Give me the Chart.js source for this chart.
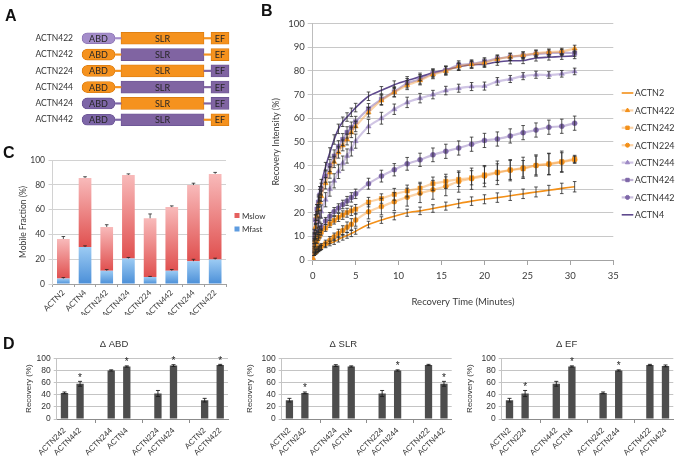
<!DOCTYPE html>
<html><head><meta charset="utf-8">
<script src="https://cdn.jsdelivr.net/npm/chart.js@4.4.1/dist/chart.umd.min.js"></script>
<style>
html,body{margin:0;padding:0;background:#fff;overflow:hidden;width:682px;height:464px;position:relative;}
canvas{position:absolute;}
.lt{position:absolute;font:bold 16px "Liberation Sans",Arial,sans-serif;line-height:16px;color:#111;z-index:5;}
</style></head><body>
<div class="lt" style="left:5px;top:8px">A</div>
<div class="lt" style="left:261px;top:3px">B</div>
<div class="lt" style="left:3px;top:145px">C</div>
<div class="lt" style="left:3px;top:336px">D</div>
<canvas id="cA" width="240" height="122" style="left:0px;top:18px;width:240px;height:122px"></canvas>
<canvas id="cC" width="268" height="175" style="left:0px;top:140px;width:268px;height:175px"></canvas>
<canvas id="cB" width="420" height="300" style="left:262px;top:15px;width:420px;height:300px"></canvas>
<canvas id="cD1" width="278" height="134" style="left:0px;top:330px;width:278px;height:134px"></canvas>
<canvas id="cD2" width="244" height="134" style="left:235px;top:330px;width:244px;height:134px"></canvas>
<canvas id="cD3" width="258" height="134" style="left:460px;top:330px;width:258px;height:134px"></canvas>
<script>
// ---------------- DATA ----------------
// Panel A: constructs and domain extents (schematic units)
const aConstructs = ['ACTN422','ACTN242','ACTN224','ACTN244','ACTN424','ACTN442'];
const aAbdSpan = [2, 35];
const aLink1Span = [35, 41];
const aSlrSpan = [41, 124];
const aLink2Span = [124, 131];
const aEfSpan = [131, 149];

// Panel B: FRAP recovery curves
const bTimes = [0, 0.17, 0.33, 0.5, 0.67, 0.83, 1, 1.5, 2, 2.5, 3, 3.5, 4, 4.5, 5, 6.5, 8, 9.5, 11, 12.5, 14, 15.5, 17, 18.5, 20, 21.5, 23, 24.5, 26, 27.5, 29, 30.5];
const bNames = ['ACTN2','ACTN422','ACTN242','ACTN224','ACTN244','ACTN424','ACTN442','ACTN4'];
const bACTN2   = [0, 2.5, 3.2, 3.8, 4.3, 4.8, 5.3, 6.2, 7.0, 7.7, 8.7, 9.6, 10.4, 11.2, 12.2, 15.0, 16.9, 18.5, 20.0, 20.8, 21.8, 22.8, 23.9, 24.9, 25.7, 26.4, 27.2, 28.0, 28.8, 29.5, 30.3, 31.0];
const bACTN422 = [0, 8, 14, 18.5, 21.5, 24.5, 27, 32.5, 37, 41.5, 45.5, 48.5, 51, 54, 56.5, 62.5, 67.5, 71, 74, 76, 78.5, 80, 82, 82.8, 83.5, 85, 86, 86.7, 87.5, 88, 88.3, 89.5];
const bACTN242 = [0, 5, 6.5, 8, 9.5, 10.5, 11.8, 13.5, 15.3, 16.8, 18, 19, 20, 20.8, 21.5, 24.5, 26, 27.8, 29.2, 30.4, 32.3, 33.3, 34.1, 34.8, 36, 37.2, 38.1, 38.6, 40, 40.7, 41.6, 42.8];
const bACTN224 = [0, 2.7, 3.4, 4, 4.7, 5.2, 5.7, 7, 8.4, 9.8, 11.2, 12.5, 13.9, 15.1, 16.9, 20.4, 22.6, 24.7, 26.6, 28.3, 29.7, 31.2, 33.2, 34.4, 35.5, 36.9, 38, 39, 40, 40.5, 41.4, 42.4];
const bACTN244 = [0, 6, 10, 13.5, 16, 18.5, 20.5, 25.5, 30, 33.5, 37.5, 41, 44, 47, 50.3, 56.5, 60, 63.8, 66.7, 68.5, 70, 71.7, 72.7, 73.4, 73.6, 75.6, 76.6, 77.8, 78.4, 78.3, 78.8, 79.8];
const bACTN424 = [0, 10, 17, 21.5, 24.5, 27.5, 30, 35.5, 40, 44, 48, 51, 54, 56, 58.5, 64, 68, 71.2, 74.8, 76.5, 79, 80.3, 82.5, 83, 84, 85.2, 86, 86.5, 87.2, 87.5, 87.8, 87.5];
const bACTN442 = [0, 9, 10, 11, 12, 13, 14, 16.5, 18.5, 20.5, 22, 23.5, 25, 26.5, 28, 32.3, 35.5, 38.2, 40.7, 42.4, 44.5, 46, 47.4, 49, 50.6, 51.2, 52.5, 53.9, 55, 56.2, 56.6, 57.9];
const bACTN4   = [0, 12, 18, 22, 26, 29.5, 32.5, 39.5, 45.5, 51, 55.5, 58.5, 60.5, 62.5, 64.5, 69.3, 71.8, 74.2, 76, 77.5, 79.2, 80.5, 81.7, 82.6, 82.9, 83.8, 84.3, 84.4, 85.5, 85.8, 86.1, 86.4];
const bErrACTN2   = [0,0.6,0.6,0.7,0.8,0.8,0.9,1,1,1.1,1.1,1.2,1.2,1.3,1.3,1.4,1.4,1.5,1.5,1.6,1.6,1.7,1.8,1.8,1.9,2,2,2,2.1,2.1,2.2,2.2];
const bErrACTN422 = [0,1.2,1.5,1.8,2,2,2.2,2.4,2.4,2.4,2.4,2.3,2.3,2.2,2.2,2,2,2,1.9,1.9,1.8,1.8,1.7,1.6,1.6,1.5,1.5,1.4,1.4,1.3,1.3,1.4];
const bErrACTN242 = [0,0.8,1,1,1.2,1.2,1.3,1.4,1.5,1.6,1.7,1.8,1.9,2,2,2,2,2.5,2.5,2.5,2.8,3,3,3,3.5,3.5,4,3.5,4,4.5,4.5,1.5];
const bErrACTN224 = [0,0.8,1,1,1.1,1.2,1.3,1.4,1.5,1.6,1.8,2,2.2,2.4,2.6,3,3.5,3.8,3.8,4,4,4,4.5,4.5,4.5,5,4.5,4.5,4.5,4.5,4,1.5];
const bErrACTN244 = [0,1,1.5,2,2.2,2.5,2.8,3,3,3,3,3,3,3,3,3,2.5,2.2,2.2,2,1.8,1.8,1.7,1.7,1.7,1.6,1.5,1.5,1.5,1.4,1.4,1.4];
const bErrACTN424 = [0,1.5,2,2,2.2,2.4,2.5,2.6,2.6,2.6,2.5,2.5,2.4,2.4,2.3,2.2,2.2,2.1,2,2,1.9,1.8,1.8,1.7,1.6,1.6,1.5,1.5,1.4,1.4,1.3,1.3];
const bErrACTN442 = [0,1,1,1.2,1.2,1.3,1.4,1.5,1.6,1.7,1.8,1.8,1.9,2,2,2.3,2.5,2.6,2.7,2.8,2.9,3,3,3,3,3,3,3,3,3,3,3];
const bErrACTN4   = [0,1,1.2,1.4,1.5,1.6,1.6,1.8,2,2,2,2,1.8,1.8,1.8,1.8,1.6,1.6,1.6,1.6,1.5,1.5,1.5,1.4,1.4,1.4,1.3,1.3,1.3,1.2,1.2,1.2];
const bXTicks = {min: 0, max: 35, step: 5};
const bYTicks = {min: 0, max: 100, step: 10};

// Panel C: mobile fractions
const cCats = ['ACTN2','ACTN4','ACTN242','ACTN424','ACTN224','ACTN442','ACTN244','ACTN422'];
const cMfast = [4.4, 29.8, 10.7, 20.6, 5.6, 10.7, 18.4, 19.8];
const cMslow = [31.9, 55.7, 35.3, 67.4, 47.4, 51.3, 61.4, 69.0];
const cMfastErr = [0.8, 1, 1, 0.8, 0.5, 1, 1.5, 1];
const cTotalErr = [2, 1, 1.8, 0.8, 3.5, 1, 1.5, 1.2];

// Panel D: recovery comparisons
const dAbdLabels = ['ACTN242','ACTN442','','ACTN244','ACTN4','','ACTN224','ACTN424','','ACTN2','ACTN422'];
const dAbdVals   = [43, 58, null, 80, 86.5, null, 42, 88, null, 31, 89];
const dAbdErr    = [1.5, 4, null, 1, 1, null, 5, 1.5, null, 3, 1];
const dAbdStar   = [0, 1, 0, 0, 1, 0, 0, 1, 0, 0, 1];
const dSlrLabels = ['ACTN2','ACTN242','','ACTN424','ACTN4','','ACTN224','ACTN244','','ACTN422','ACTN442'];
const dSlrVals   = [31, 43, null, 88, 86.5, null, 42, 80, null, 89, 58];
const dSlrErr    = [3, 1.5, null, 1.5, 1, null, 5, 1, null, 1, 4];
const dSlrStar   = [0, 1, 0, 0, 0, 0, 0, 1, 0, 0, 1];
const dEfLabels  = ['ACTN2','ACTN224','','ACTN442','ACTN4','','ACTN242','ACTN244','','ACTN422','ACTN424'];
const dEfVals    = [31, 42, null, 58, 86.5, null, 43, 80, null, 89, 87.5];
const dEfErr     = [3, 5, null, 4, 1, null, 1.5, 1, null, 1, 1.5];
const dEfStar    = [0, 1, 0, 0, 1, 0, 0, 1, 0, 0, 0];

// ---------------- STYLE ----------------
const LF = 'Lato, "Open Sans", sans-serif';
const DF = '"Liberation Sans", Arial, sans-serif';
Chart.defaults.font.family = LF;
Chart.defaults.color = '#3a3a3a';
Chart.defaults.animation = false;
Chart.defaults.responsive = false;
Chart.defaults.plugins.legend.display = false;
Chart.defaults.plugins.tooltip.enabled = false;

const ORANGE = '#F5921E', PURPLE = '#8064A2';

// ---------------- PLUGINS ----------------
const errPlugin = {
  id: 'errbars',
  afterDatasetsDraw(chart, args, o) {
    if (!o || !o.sets) return;
    const ctx = chart.ctx, ys = chart.scales.y;
    o.sets.forEach(s => {
      const meta = chart.getDatasetMeta(s.dataset);
      const data = chart.data.datasets[s.dataset].data;
      meta.data.forEach((el, i) => {
        const e = s.err[i], v = data[i];
        if (e == null || !e || v == null) return;
        const dy = Math.abs(ys.getPixelForValue(e) - ys.getPixelForValue(0));
        const x = el.x, y = el.y;
        const top = y - dy, bot = s.up ? y : y + dy;
        ctx.save();
        ctx.strokeStyle = s.color || '#262626';
        ctx.lineWidth = s.width || 1;
        ctx.beginPath();
        ctx.moveTo(x, top); ctx.lineTo(x, bot);
        ctx.moveTo(x - s.cap, top); ctx.lineTo(x + s.cap, top);
        if (!s.up) { ctx.moveTo(x - s.cap, bot); ctx.lineTo(x + s.cap, bot); }
        ctx.stroke();
        ctx.restore();
      });
    });
  }
};
const starPlugin = {
  id: 'stars',
  afterDatasetsDraw(chart, args, o) {
    if (!o || !o.flags) return;
    const ctx = chart.ctx, ys = chart.scales.y;
    const meta = chart.getDatasetMeta(0);
    const data = chart.data.datasets[0].data;
    meta.data.forEach((el, i) => {
      if (!o.flags[i] || data[i] == null) return;
      const top = ys.getPixelForValue(data[i] + (o.errs[i] || 0));
      ctx.save();
      ctx.fillStyle = '#222';
      ctx.font = '10px ' + DF;
      ctx.textAlign = 'center';
      ctx.textBaseline = 'alphabetic';
      ctx.fillText('*', el.x, top - 0.5);
      ctx.restore();
    });
  }
};
const aTextPlugin = {
  id: 'aText',
  afterDatasetsDraw(chart, args, o) {
    if (!o || !o.labels) return;
    const ctx = chart.ctx;
    chart.data.datasets.forEach((ds, di) => {
      if (!o.labels.includes(ds.label)) return;
      chart.getDatasetMeta(di).data.forEach(el => {
        const p = el.getProps(['x', 'y', 'base'], true);
        ctx.save();
        ctx.fillStyle = '#262626';
        ctx.font = '9px ' + LF;
        ctx.textAlign = 'center';
        ctx.textBaseline = 'middle';
        ctx.fillText(ds.label, (p.x + p.base) / 2, p.y + 0.5);
        ctx.restore();
      });
    });
  }
};
const bLegendPlugin = {
  id: 'bLegend',
  afterDraw(chart, args, o) {
    if (!o || o.x == null) return;
    const ctx = chart.ctx;
    chart.data.datasets.forEach((ds, i) => {
      const y = o.y + i * o.gap;
      ctx.save();
      ctx.strokeStyle = ds.borderColor; ctx.lineWidth = ds.borderWidth;
      ctx.beginPath(); ctx.moveTo(o.x, y); ctx.lineTo(o.x + o.w, y); ctx.stroke();
      if (ds.pointRadius > 0) {
        ctx.fillStyle = ds.pointBackgroundColor; ctx.strokeStyle = ds.pointBorderColor; ctx.lineWidth = 1;
        Chart.helpers.drawPoint(ctx, {pointStyle: ds.pointStyle, radius: ds.pointRadius * 0.8, borderWidth: 1, rotation: 0}, o.x + o.w / 2, y);
      }
      ctx.fillStyle = '#333'; ctx.font = '9px ' + LF; ctx.textAlign = 'left'; ctx.textBaseline = 'middle';
      ctx.fillText(ds.label, o.x + o.w + 1.5, y + 0.5);
      ctx.restore();
    });
  }
};
const cLegendPlugin = {
  id: 'cLegend',
  afterDraw(chart, args, o) {
    if (!o || !o.items) return;
    const ctx = chart.ctx;
    o.items.forEach((it, i) => {
      const y = o.y + i * o.gap;
      ctx.save();
      ctx.fillStyle = it.color; ctx.fillRect(o.x - 2.5, y - 2.5, 5, 5);
      ctx.fillStyle = '#333'; ctx.font = '8px ' + LF; ctx.textAlign = 'left'; ctx.textBaseline = 'middle';
      ctx.fillText(it.label, o.x + 5, y + 0.5);
      ctx.restore();
    });
  }
};
Chart.register(errPlugin, starPlugin, aTextPlugin, bLegendPlugin, cLegendPlugin);

// ---------------- PANEL A ----------------
(function () {
  const abdFill = ['#A48DCA', ORANGE, ORANGE, ORANGE, '#7D66A7', '#7D66A7'];
  const abdEdge = ['#8A72B3', '#D97B10', '#D97B10', '#D97B10', '#6A5494', '#6A5494'];
  const isoFill = d => d === '2' ? ORANGE : PURPLE;
  const isoEdge = d => d === '2' ? '#D97B10' : '#6A5494';
  const slrFill = aConstructs.map(n => isoFill(n[5]));
  const slrEdge = aConstructs.map(n => isoEdge(n[5]));
  const efFill = aConstructs.map(n => isoFill(n[6]));
  const efEdge = aConstructs.map(n => isoEdge(n[6]));
  new Chart(document.getElementById('cA'), {
    type: 'bar',
    data: {
      labels: aConstructs,
      datasets: [
        {label: 'l1', data: aConstructs.map(() => aLink1Span), backgroundColor: abdFill, barThickness: 1.5, grouped: false},
        {label: 'l2', data: aConstructs.map(() => aLink2Span), backgroundColor: efFill, barThickness: 1.5, grouped: false},
        {label: 'ABD', data: aConstructs.map(() => aAbdSpan), backgroundColor: abdFill, borderColor: abdEdge, borderWidth: 0.8, borderSkipped: false, borderRadius: 20, barThickness: 11, grouped: false},
        {label: 'SLR', data: aConstructs.map(() => aSlrSpan), backgroundColor: slrFill, borderColor: slrEdge, borderWidth: 0.8, borderSkipped: false, barThickness: 12, grouped: false},
        {label: 'EF', data: aConstructs.map(() => aEfSpan), backgroundColor: efFill, borderColor: efEdge, borderWidth: 0.8, borderSkipped: false, barThickness: 12, grouped: false}
      ]
    },
    options: {
      indexAxis: 'y',
      layout: {padding: {top: 1.65, bottom: 2.15, left: 0, right: 10}},
      plugins: {aText: {labels: ['ABD', 'SLR', 'EF']}},
      scales: {
        x: {type: 'linear', min: 0, max: 150, display: false},
        y: {grid: {display: false, drawTicks: false}, border: {display: false},
            ticks: {font: {size: 8.5, family: LF}, color: '#333', padding: 7},
            afterFit: s => { s.width = 80; }}
      }
    }
  });
})();

// ---------------- PANEL B ----------------
(function () {
  const vals = {ACTN2: bACTN2, ACTN422: bACTN422, ACTN242: bACTN242, ACTN224: bACTN224, ACTN244: bACTN244, ACTN424: bACTN424, ACTN442: bACTN442, ACTN4: bACTN4};
  const errs = {ACTN2: bErrACTN2, ACTN422: bErrACTN422, ACTN242: bErrACTN242, ACTN224: bErrACTN224, ACTN244: bErrACTN244, ACTN424: bErrACTN424, ACTN442: bErrACTN442, ACTN4: bErrACTN4};
  const st = {
    ACTN2:   {line: '#F39019', w: 1.6, mk: null, ps: 'line', r: 0},
    ACTN422: {line: 'rgba(246,150,45,0.42)', w: 2.2, mk: '#F39019', ps: 'triangle', r: 3},
    ACTN242: {line: 'rgba(246,150,45,0.42)', w: 2.2, mk: '#F39019', ps: 'rect', r: 3},
    ACTN224: {line: 'rgba(246,150,45,0.42)', w: 2.2, mk: '#F39019', ps: 'circle', r: 2.5},
    ACTN244: {line: 'rgba(170,150,205,0.55)', w: 2.2, mk: '#9C88C4', ps: 'triangle', r: 3},
    ACTN424: {line: 'rgba(128,100,170,0.5)', w: 2.2, mk: '#7E67A8', ps: 'rect', r: 3},
    ACTN442: {line: 'rgba(150,125,190,0.5)', w: 2.2, mk: '#7E67A8', ps: 'circle', r: 2.5},
    ACTN4:   {line: '#5F4A8E', w: 1.6, mk: null, ps: 'line', r: 0}
  };
  const datasets = bNames.map(n => ({
    label: n,
    data: bTimes.map((t, i) => ({x: t, y: vals[n][i]})),
    showLine: true,
    borderColor: st[n].line,
    borderWidth: st[n].w,
    tension: 0.25,
    pointStyle: st[n].ps,
    pointRadius: st[n].r,
    pointBackgroundColor: st[n].mk || st[n].line,
    pointBorderColor: st[n].mk || st[n].line,
    pointBorderWidth: 0.5
  }));
  new Chart(document.getElementById('cB'), {
    type: 'scatter',
    data: {datasets},
    options: {
      layout: {padding: {top: 8.3, right: 68.7, bottom: 0, left: 0}},
      plugins: {
        errbars: {sets: bNames.map((n, i) => ({dataset: i, err: errs[n], cap: 1.8, width: 0.8, color: '#2a2a2a'}))},
        bLegend: {x: 359.7, y: 78, gap: 17.4, w: 11.6}
      },
      scales: {
        x: {type: 'linear', min: bXTicks.min, max: bXTicks.max,
            ticks: {stepSize: bXTicks.step, padding: 5, font: {size: 9.5}, color: '#3a3a3a'},
            grid: {drawOnChartArea: false, tickLength: 5, color: '#a3a3a3'},
            border: {color: '#a3a3a3'},
            title: {display: true, text: 'Recovery Time (Minutes)', font: {size: 9.5}, color: '#3a3a3a', padding: {top: 4, bottom: 7.3}},
            afterFit: s => { s.height = 55; }},
        y: {min: bYTicks.min, max: bYTicks.max,
            ticks: {stepSize: bYTicks.step, padding: 3, font: {size: 9.5}, color: '#3a3a3a', autoSkip: false},
            grid: {color: '#c8c8c8', tickLength: 5},
            border: {color: '#bdbdbd'},
            title: {display: true, text: 'Recovery Intensity (%)', font: {size: 9}, color: '#3a3a3a', padding: {top: 8.6, bottom: 0}},
            afterFit: s => { s.width = 50.7; }}
      }
    }
  });
})();

// ---------------- PANEL C ----------------
(function () {
  function grad(dsIndex, c0, c1) {
    return function (ctx) {
      const ch = ctx.chart, ys = ch.scales && ch.scales.y;
      if (ctx.type !== 'data' || !ys) return c1;
      const i = ctx.dataIndex;
      let base = 0;
      for (let k = 0; k < dsIndex; k++) base += ch.data.datasets[k].data[i];
      const top = base + ch.data.datasets[dsIndex].data[i];
      const y0 = ys.getPixelForValue(top), y1 = ys.getPixelForValue(base);
      if (!isFinite(y0) || !isFinite(y1) || y0 === y1) return c1;
      const g = ch.ctx.createLinearGradient(0, y0, 0, y1);
      g.addColorStop(0, c0); g.addColorStop(1, c1);
      return g;
    };
  }
  new Chart(document.getElementById('cC'), {
    type: 'bar',
    data: {
      labels: cCats,
      datasets: [
        {label: 'Mfast', data: cMfast, backgroundColor: grad(0, '#9CCBF3', '#4B8FD8')},
        {label: 'Mslow', data: cMslow, backgroundColor: grad(1, '#F8BABA', '#E0504F')}
      ]
    },
    options: {
      datasets: {bar: {barPercentage: 0.585, categoryPercentage: 1}},
      layout: {padding: {top: 20, right: 42, bottom: 0, left: 0}},
      plugins: {
        errbars: {sets: [
          {dataset: 0, err: cMfastErr, cap: 1.8, up: true, width: 0.8},
          {dataset: 1, err: cTotalErr, cap: 1.8, up: true, width: 0.8}
        ]},
        cLegend: {x: 237, y: 75.5, gap: 13.5, items: [{label: 'Mslow', color: '#E5605E'}, {label: 'Mfast', color: '#5E9CE0'}]}
      },
      scales: {
        x: {stacked: true,
            grid: {drawOnChartArea: false, tickLength: 3, color: '#a0a0a0'},
            border: {color: '#a0a0a0'},
            ticks: {autoSkip: false, minRotation: 45, maxRotation: 45, font: {size: 8}, color: '#3a3a3a', padding: 1},
            afterFit: s => { s.height = 31; }},
        y: {stacked: true, min: 0, max: 100,
            ticks: {stepSize: 20, font: {size: 8.5}, color: '#3a3a3a', padding: 3.5, autoSkip: false},
            grid: {color: '#d2d2d2', tickLength: 4},
            border: {color: '#d2d2d2'},
            title: {display: true, text: 'Mobile Fraction (%)', font: {size: 8.5}, color: '#3a3a3a', padding: {top: 17.9, bottom: 0}},
            afterFit: s => { s.width = 52.5; }}
      }
    }
  });
})();

// ---------------- PANEL D ----------------
function makeD(id, title, labels, vals, errs, stars, geo) {
  new Chart(document.getElementById(id), {
    type: 'bar',
    data: {labels, datasets: [{data: vals, backgroundColor: '#4D4D4D', barPercentage: 0.47, categoryPercentage: 1}]},
    options: {
      layout: {padding: {top: 0, left: 0, right: geo.padRight, bottom: 0}},
      plugins: {
        title: {display: true, text: title, font: {size: 9.5, family: DF, weight: 'normal'}, color: '#333', padding: {top: 8.3, bottom: 8.6}},
        errbars: {sets: [{dataset: 0, err: errs, cap: 2, width: 0.9, color: '#1e1e1e'}]},
        stars: {flags: stars, errs}
      },
      scales: {
        x: {grid: {offset: false, drawOnChartArea: false, tickLength: 4,
                   color: c => labels[c.index] === '' ? '#8c8c8c' : 'rgba(0,0,0,0)'},
            border: {color: '#8c8c8c'},
            ticks: {autoSkip: false, minRotation: 45, maxRotation: 45, font: {size: 8, family: DF}, color: '#333', padding: 3},
            afterFit: s => { s.height = 45; }},
        y: {min: 0, max: 100,
            ticks: {stepSize: 20, font: {size: 8.5, family: DF}, color: '#333', padding: 3, autoSkip: false},
            grid: {color: '#c4c4c4', tickLength: 3},
            border: {color: '#c4c4c4'},
            title: {display: true, text: 'Recovery (%)', font: {size: 8, family: DF}, color: '#333', padding: {top: geo.titlePad, bottom: 0}},
            afterFit: s => { s.width = geo.yw; }}
      }
    }
  });
}
makeD('cD1', '\u0394 ABD', dAbdLabels, dAbdVals, dAbdErr, dAbdStar, {padRight: 50, yw: 56.7, titlePad: 23.7});
makeD('cD2', '\u0394 SLR', dSlrLabels, dSlrVals, dSlrErr, dSlrStar, {padRight: 27.3, yw: 46.7, titlePad: 10.2});
makeD('cD3', '\u0394 EF', dEfLabels, dEfVals, dEfErr, dEfStar, {padRight: 44.7, yw: 41.7, titlePad: 5.2});
</script>
</body></html>
